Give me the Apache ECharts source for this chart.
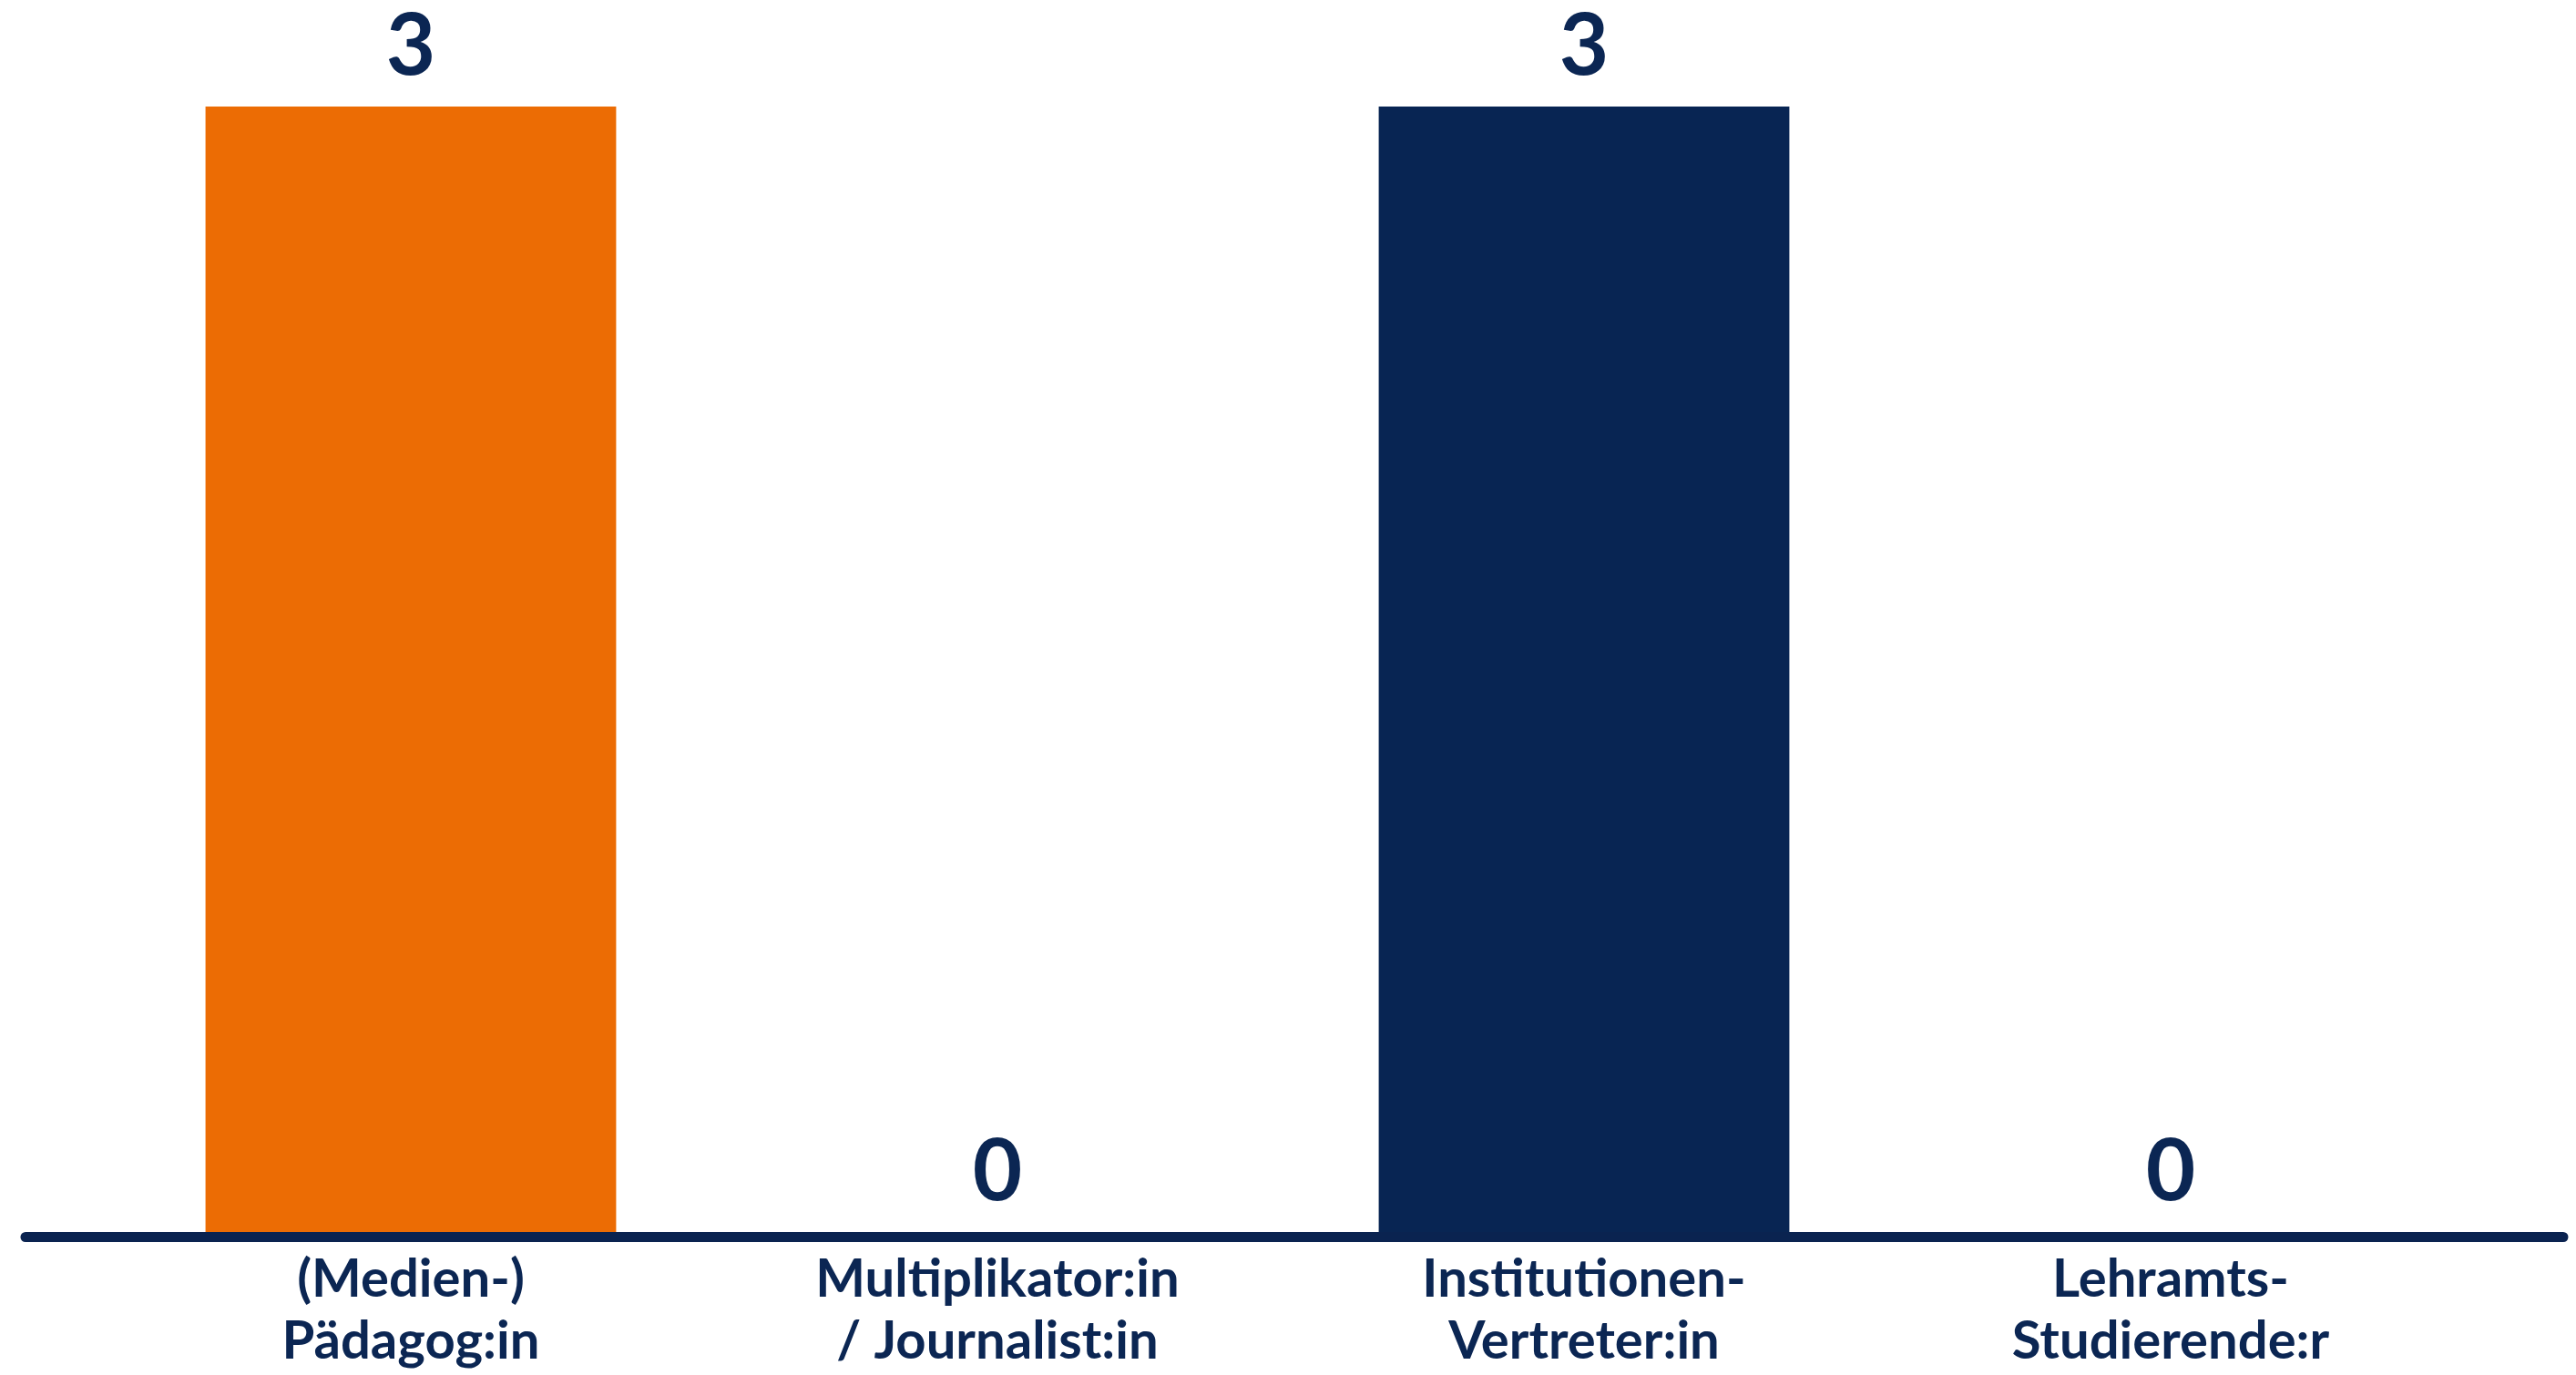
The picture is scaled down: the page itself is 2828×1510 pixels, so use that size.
<!DOCTYPE html>
<html>
<head>
<meta charset="utf-8">
<script src="https://cdn.jsdelivr.net/npm/echarts@6/dist/echarts.min.js"></script>
<style>
html,body{margin:0;padding:0;background:#fff;}
#chart{width:2828px;height:1510px;}
</style>
</head>
<body>
<div id="chart"></div>
<script>
const categories = ['(Medien-)\nPädagog:in', 'Multiplikator:in\n/ Journalist:in', 'Institutionen-\nVertreter:in', 'Lehramts-\nStudierende:r'];
const values = [3, 0, 3, 0];
const barColors = ['#EC6C04', '#082553', '#082553', '#EC6C04'];
const textColor = '#0B2653';

const chart = echarts.init(document.getElementById('chart'));
chart.setOption({
  backgroundColor: '#ffffff',
  animation: false,
  grid: [
    { left: 129, right: 123, top: 117, bottom: 157 },
    { left: 28, right: 14, top: 117, bottom: 152 }
  ],
  xAxis: [
    {
      type: 'category', gridIndex: 0, data: categories,
      axisLine: { show: false }, axisTick: { show: false },
      axisLabel: {
        color: textColor, fontFamily: 'Lato', fontWeight: 'bold',
        fontSize: 58, lineHeight: 68, margin: 18, interval: 0
      }
    },
    {
      type: 'category', gridIndex: 1, data: [],
      axisLine: { show: true, lineStyle: { color: '#0A2350', width: 11 } },
      axisTick: { show: false }, axisLabel: { show: false }
    }
  ],
  yAxis: [
    { type: 'value', gridIndex: 0, min: 0, max: 3, show: false, splitLine: { show: false } },
    { type: 'value', gridIndex: 1, show: false, splitLine: { show: false } }
  ],
  series: [{
    type: 'bar',
    xAxisIndex: 0, yAxisIndex: 0,
    barWidth: '70%',
    data: values.map((v, i) => ({ value: v, itemStyle: { color: barColors[i] } })),
    label: {
      show: true, position: 'top', distance: 18,
      color: textColor, fontFamily: 'Lato', fontWeight: 'bold', fontSize: 94
    }
  }]
});
</script>
</body>
</html>
